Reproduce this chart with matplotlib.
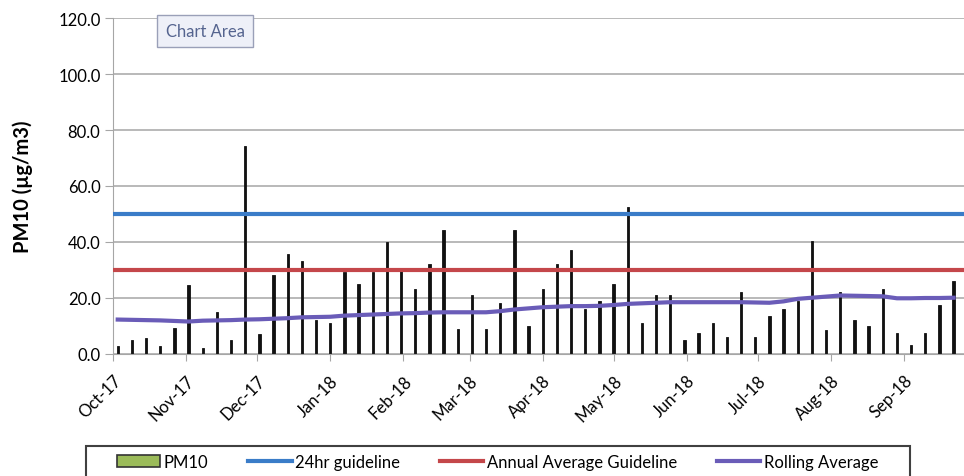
import datetime as dt
import matplotlib
matplotlib.use("Agg")
import matplotlib.pyplot as plt
import matplotlib.dates as mdates
from matplotlib.patches import Rectangle
from matplotlib.ticker import FixedLocator, FuncFormatter

plt.rcParams["font.family"] = ["Lato", "DejaVu Sans"]

# PM10 samples, 1-in-6-day, starting 3 Oct 2017
START = dt.date(2017, 10, 3)
STEP_DAYS = 6
pm10 = [3.0, 5.0, 5.8, 3.0, 9.2, 24.8, 2.3, 15.0, 5.0, 74.3,
        7.2, 28.3, 35.8, 33.2, 12.3, 11.0, 29.3, 25.1, 29.3, 40.0,
        29.5, 23.3, 32.3, 44.2, 9.0, 21.1, 9.0, 18.3, 44.2, 10.1,
        23.3, 32.3, 37.3, 16.1, 19.1, 25.1, 52.6, 11.1, 21.1, 21.1,
        5.1, 7.5, 11.1, 6.0, 22.3, 6.0, 13.4, 16.1, 19.0, 40.3,
        8.4, 22.3, 12.3, 10.1, 23.3, 7.5, 3.2, 7.5, 17.6, 25.9]
rolling = [12.3, 12.2, 12.1, 12.0, 11.8, 11.6, 11.9, 12.0, 12.1, 12.3,
           12.4, 12.6, 12.8, 13.1, 13.2, 13.3, 13.7, 13.9, 14.1, 14.3,
           14.5, 14.6, 14.8, 14.9, 14.9, 14.9, 14.9, 15.3, 15.9, 16.3,
           16.7, 16.9, 17.1, 17.1, 17.2, 17.5, 17.9, 18.1, 18.3, 18.5,
           18.5, 18.5, 18.5, 18.5, 18.5, 18.4, 18.3, 18.8, 19.7, 20.1,
           20.5, 20.9, 20.8, 20.7, 20.6, 19.9, 19.9, 20.0, 20.0, 20.1]
guideline_24hr = 50.0
guideline_annual = 30.0
months = [dt.date(2017, m, 1) for m in (10, 11, 12)] + \
         [dt.date(2018, m, 1) for m in range(1, 10)]

dates = [START + dt.timedelta(days=STEP_DAYS * i) for i in range(len(pm10))]
xd = mdates.date2num(dates)

W, H = 964, 477
fig = plt.figure(figsize=(W / 100, H / 100), dpi=100)
fig.patch.set_facecolor("white")
ax = fig.add_axes([113 / W, 1 - 355 / H, 1 - 113 / W, (355 - 19) / H])

GRID = "#a6a6a6"
ax.set_ylim(0, 120)
x0 = mdates.date2num(dt.date(2017, 10, 1))
ax.set_xlim(x0, x0 + 360.4)
ax.set_yticks(range(0, 121, 20))
ax.yaxis.set_major_formatter(FuncFormatter(lambda v, p: f"{v:.1f}"))
ax.grid(axis="y", color=GRID, linewidth=1.1, zorder=0)
ax.set_axisbelow(True)

# bars are so thin in the original that only the dark border shows
bars = ax.bar(xd, pm10, width=1.0, color="#111111", edgecolor="#111111",
              linewidth=0.6, label="PM10", zorder=2)
l24 = ax.axhline(guideline_24hr, color="#3a7cc8", linewidth=3,
                 label="24hr guideline", zorder=3)
lann = ax.axhline(guideline_annual, color="#c4474a", linewidth=3,
                  label="Annual Average Guideline", zorder=3)
lroll, = ax.plot(xd, rolling, color="#6a5cb8", linewidth=3,
                 label="Rolling Average", zorder=4)

ax.xaxis.set_major_locator(FixedLocator(mdates.date2num(months)))
ax.xaxis.set_major_formatter(mdates.DateFormatter("%b-%y"))
for lab in ax.get_xticklabels():
    lab.set_rotation(45)
    lab.set_ha("right")
    lab.set_rotation_mode("anchor")
ax.tick_params(axis="x", length=5, color=GRID, labelsize=12, pad=8)
ax.tick_params(axis="y", length=6, color=GRID, labelsize=12, pad=3)

for side in ("top", "right"):
    ax.spines[side].set_visible(False)
ax.spines["left"].set_color(GRID)
ax.spines["bottom"].set_color(GRID)

ax.set_ylabel("PM10 (µg/m3)", fontsize=14.5, fontweight="bold")
ax.yaxis.set_label_coords(-0.094, 0.5)

# "Chart Area" tooltip left over in the screenshot
fig.text(205 / W, 1 - 32 / H, "Chart Area", ha="center", va="center",
         fontsize=12, color="#55648f",
         bbox=dict(boxstyle="square,pad=0.5", facecolor="#eef0f8",
                   edgecolor="#9aa0b8", linewidth=1))

# legend: frame drawn separately, it runs off the bottom of the image
fig.patches.append(Rectangle((86 / W, -0.05), 824 / W, 1 - 447 / H + 0.05,
                             transform=fig.transFigure, fill=False,
                             edgecolor="#404040", linewidth=1.5))
leg = fig.legend(handles=[bars, l24, lann, lroll],
                 loc="upper left", bbox_to_anchor=(117 / W, 1 - 455 / H),
                 ncol=4, frameon=False, fontsize=12, handlelength=2.6,
                 handletextpad=0.2, columnspacing=2.4, borderaxespad=0,
                 borderpad=0)
for p in leg.get_patches():
    p.set_facecolor("#9bbb59")
    p.set_edgecolor("#333333")
    p.set_linewidth(1.2)

fig.savefig("out.png", dpi=100, facecolor="white")
